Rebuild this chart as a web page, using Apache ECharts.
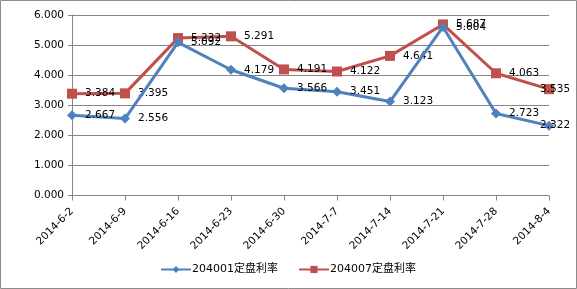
<!DOCTYPE html>
<html><head><meta charset="utf-8">
<script src="https://cdn.jsdelivr.net/npm/echarts@6/dist/echarts.min.js"></script>
<style>html,body{margin:0;padding:0;background:#fff}#c{width:577px;height:289px}</style>
</head><body><div id="c"></div>
<script>
const categories = ['2014-6-2','2014-6-9','2014-6-16','2014-6-23','2014-6-30','2014-7-7','2014-7-14','2014-7-21','2014-7-28','2014-8-4'];
const series1Name = '204001定盘利率';
const series1 = [2.667, 2.556, 5.092, 4.179, 3.566, 3.451, 3.123, 5.604, 2.723, 2.322];
const series2Name = '204007定盘利率';
const series2 = [3.384, 3.395, 5.232, 5.291, 4.191, 4.122, 4.641, 5.687, 4.063, 3.535];
const yTicks = [0, 1, 2, 3, 4, 5, 6];

const font = 'DejaVu Sans, Noto Sans CJK SC, sans-serif';
const chart = echarts.init(document.getElementById('c'));
const lbl = {show: true, position: 'right', distance: 8, color: '#000', fontSize: 10.5, fontFamily: font,
  formatter: p => p.value.toFixed(3)};
const lastIdx = categories.length - 1;
const withLastLabel = arr => arr.map((v, i) => i === lastIdx ? {value: v, label: {offset: [-22, 0]}} : v);
chart.setOption({
  animation: false,
  backgroundColor: '#fff',
  graphic: [{type: 'rect', shape: {x: 0.5, y: 0.5, width: 576, height: 288}, style: {fill: 'none', stroke: '#8c8c8c', lineWidth: 1}, silent: true}],
  grid: {left: 72, right: 28, top: 15, bottom: 93.5},
  legend: {
    left: 155, top: 259, itemWidth: 30, itemHeight: 9, itemGap: 20,
    textStyle: {fontFamily: font, fontSize: 11, color: '#000', padding: [0,0,0,-4]},
    data: [series1Name, series2Name]
  },
  xAxis: {
    type: 'category', data: categories, boundaryGap: false,
    axisLine: {lineStyle: {color: '#868686'}},
    axisTick: {show: true, length: 5, lineStyle: {color: '#868686'}},
    axisLabel: {rotate: 45, color: '#000', fontSize: 10.5, fontFamily: font, margin: 14, interval: 0}
  },
  yAxis: {
    type: 'value', min: yTicks[0], max: yTicks[yTicks.length-1], interval: 1,
    axisLine: {show: true, lineStyle: {color: '#868686'}},
    axisTick: {show: true, length: 4, lineStyle: {color: '#868686'}},
    splitLine: {lineStyle: {color: '#868686'}},
    axisLabel: {color: '#000', fontSize: 10.5, fontFamily: font, margin: 8, formatter: v => v.toFixed(3)}
  },
  series: [
    {name: series1Name, type: 'line', data: withLastLabel(series1), symbol: 'diamond', symbolSize: 10,
     lineStyle: {color: '#4F81BD', width: 3}, itemStyle: {color: '#4F81BD'}, label: lbl, z: 3},
    {name: series2Name, type: 'line', data: withLastLabel(series2), symbol: 'rect', symbolSize: 10,
     lineStyle: {color: '#C0504D', width: 3}, itemStyle: {color: '#C0504D'}, label: lbl, z: 2}
  ]
});
</script></body></html>
